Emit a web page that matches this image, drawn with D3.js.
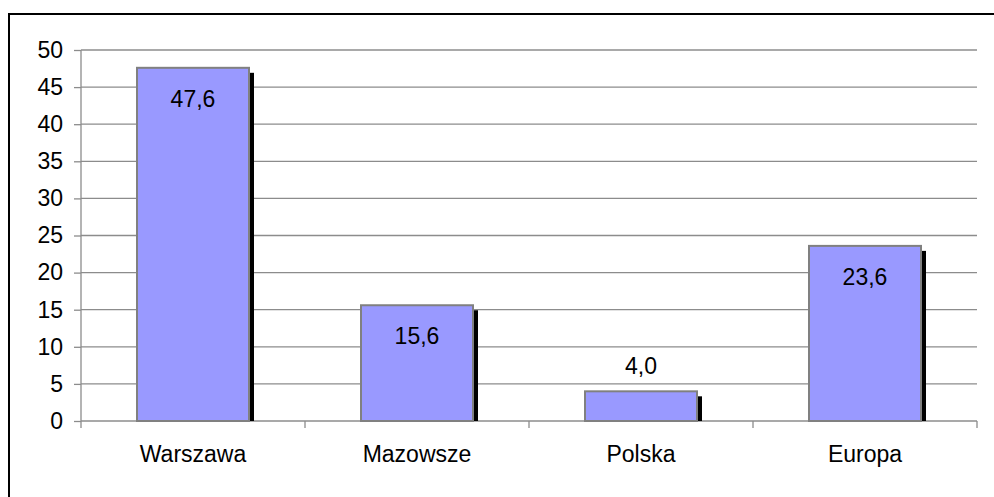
<!DOCTYPE html>
<html>
<head>
<meta charset="utf-8">
<script src="https://cdn.jsdelivr.net/npm/d3@7"></script>
<style>
    body { margin: 0; background: #fff; }
    svg { display: block; font-family: "Liberation Sans", Arial, sans-serif; }
</style>
</head>
<body>
<div class="chart"></div>
<script>
let categories = ['Warszawa', 'Mazowsze', 'Polska', 'Europa'];
let values = [47.6, 15.6, 4.0, 23.6];
let valueLabels = ['47,6', '15,6', '4,0', '23,6'];
let yTicks = [0, 5, 10, 15, 20, 25, 30, 35, 40, 45, 50];

let width = 994;
let height = 497;
let margin = {
    top: 50,
    right: 17,
    bottom: 76,
    left: 81
};
let plotW = width - margin.left - margin.right;
let plotH = height - margin.top - margin.bottom;
let fontSize = 23;

let svg = d3.select('.chart')
    .append('svg')
    .attr('width', width)
    .attr('height', height);

// outer frame (only left and top edges fall inside the picture)
svg.append('rect')
    .attr('x', 9)
    .attr('y', 14)
    .attr('width', 990)
    .attr('height', 500)
    .attr('fill', 'none')
    .attr('stroke', '#000')
    .attr('stroke-width', 2);

let g = svg.append('g')
    .attr('transform', 'translate(' + margin.left + ',' + margin.top + ')');

let x = d3.scaleBand()
    .domain(categories)
    .range([0, plotW])
    .paddingInner(0.5)
    .paddingOuter(0.25);

let y = d3.scaleLinear()
    .domain([0, 50])
    .range([plotH, 0]);

// gridlines
g.append('g')
    .selectAll('line')
    .data(yTicks)
    .join('line')
    .attr('x1', 0)
    .attr('x2', plotW)
    .attr('y1', d => y(d))
    .attr('y2', d => y(d))
    .attr('stroke', '#8c8c8c')
    .attr('stroke-width', 1.3);

// y axis
let yAxis = g.append('g')
    .call(d3.axisLeft(y).tickValues(yTicks).tickSize(7).tickPadding(11));
yAxis.select('.domain')
    .attr('d', 'M0,0V' + (plotH + 7))
    .attr('stroke', '#8c8c8c')
    .attr('stroke-width', 1.3);
yAxis.selectAll('.tick line')
    .attr('stroke', '#8c8c8c')
    .attr('stroke-width', 1.3);
yAxis.selectAll('text')
    .attr('font-size', fontSize)
    .attr('font-family', '"Liberation Sans", Arial, sans-serif')
    .attr('fill', '#000');

// category ticks at band boundaries
let step = x.step();
g.append('g')
    .selectAll('line')
    .data(d3.range(1, categories.length + 1))
    .join('line')
    .attr('x1', d => d * step)
    .attr('x2', d => d * step)
    .attr('y1', plotH)
    .attr('y2', plotH + 7)
    .attr('stroke', '#8c8c8c')
    .attr('stroke-width', 1.3);

// shadows
g.append('g')
    .selectAll('rect')
    .data(values)
    .join('rect')
    .attr('x', (d, i) => x(categories[i]) + 5)
    .attr('y', d => y(d) + 5)
    .attr('width', x.bandwidth())
    .attr('height', d => plotH - y(d) - 5)
    .attr('fill', '#000');

// bars
g.append('g')
    .selectAll('rect')
    .data(values)
    .join('rect')
    .attr('x', (d, i) => x(categories[i]))
    .attr('y', d => y(d))
    .attr('width', x.bandwidth())
    .attr('height', d => plotH - y(d))
    .attr('fill', '#9999ff')
    .attr('stroke', '#808080')
    .attr('stroke-width', 2);

// value labels
g.append('g')
    .selectAll('text')
    .data(values)
    .join('text')
    .attr('x', (d, i) => x(categories[i]) + x.bandwidth() / 2)
    .attr('y', d => (plotH - y(d) > 40) ? y(d) + 31 : y(d) - 25)
    .attr('dy', '0.35em')
    .attr('text-anchor', 'middle')
    .attr('font-size', fontSize)
    .attr('fill', '#000')
    .text((d, i) => valueLabels[i]);

// category labels
g.append('g')
    .selectAll('text')
    .data(categories)
    .join('text')
    .attr('x', d => x(d) + x.bandwidth() / 2)
    .attr('y', plotH + 33)
    .attr('dy', '0.35em')
    .attr('text-anchor', 'middle')
    .attr('font-size', fontSize)
    .attr('fill', '#000')
    .text(d => d);
</script>
</body>
</html>
